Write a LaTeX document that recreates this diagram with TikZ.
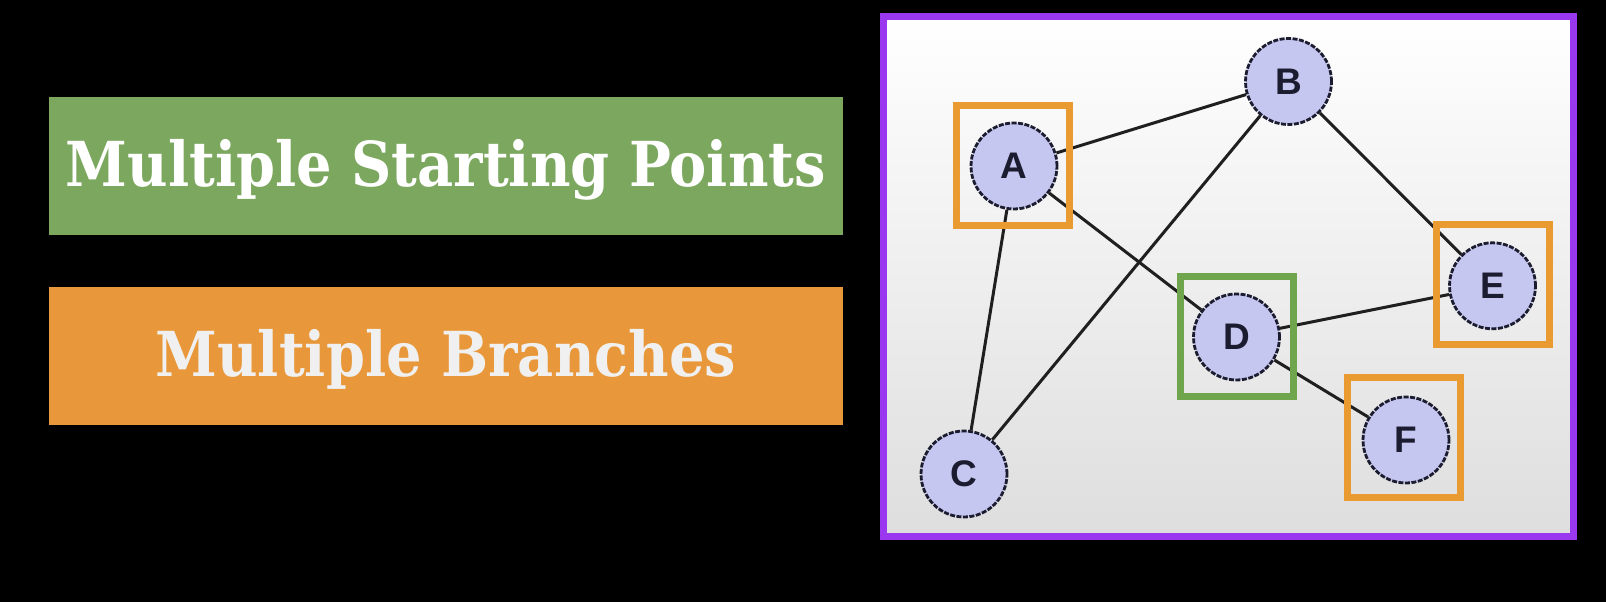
\documentclass[tikz,border=0pt]{standalone}
\usepackage{fontspec}
\setmainfont{Liberation Sans}
\newfontfamily\slab[FakeStretch=0.9]{DejaVu Serif}
\usetikzlibrary{shapes.geometric}

\definecolor{labgreen}{HTML}{7CA75F}
\definecolor{laborange}{HTML}{E8983A}
\definecolor{framepurple}{HTML}{9A38F0}
\definecolor{vertexfill}{HTML}{C6C7F0}
\definecolor{vertexink}{HTML}{1C1C30}
\definecolor{markorange}{HTML}{E99A30}
\definecolor{markgreen}{HTML}{6FA54C}

\begin{document}
\begin{tikzpicture}[x=1pt,y=-1pt,
    label box/.style={rectangle, minimum width=793.7pt, minimum height=138.3pt,
        inner sep=0pt, text height=42pt, text depth=0pt,
        font=\slab\bfseries\fontsize{62}{64}\selectfont},
    vertex/.style={circle, draw=vertexink, dash pattern=on 5pt off 1.5pt, line width=2.8pt,
        fill=vertexfill, minimum size=86pt, inner sep=0pt,
        font=\bfseries\fontsize{37}{40}\selectfont, text=vertexink},
    hilite/.style={rectangle, draw=#1, line width=7pt, minimum width=113pt,
        minimum height=120pt, inner sep=0pt},
    edge/.style={line width=3pt, black!88}]

    \fill[black] (0,0) rectangle (1606,602);
    \useasboundingbox (0,0) rectangle (1606,602);

    % the two labels
    \node[label box, fill=labgreen, text=white] (start) at (445.85,165.85) {Multiple Starting Points};
    \node[label box, fill=laborange, text=black!6] (branch) at (445.85,355.85) {Multiple Branches};

    % the graph panel
    \shade[top color=white, bottom color=black!13] (883.5,16.5) rectangle (1573.5,536.5);
    \draw[framepurple, line width=7pt] (883.5,16.5) rectangle (1573.5,536.5);

    \node[vertex] (A) at (1014,166)    {A};
    \node[vertex] (B) at (1288.5,81.5) {B};
    \node[vertex] (C) at (964,474)     {C};
    \node[vertex] (D) at (1236.5,337)  {D};
    \node[vertex] (E) at (1492.5,285.8) {E};
    \node[vertex] (F) at (1406,440)    {F};

    \foreach \u/\v in {A/B, A/C, A/D, B/C, B/E, D/E, D/F}
        \draw[edge] (\u) -- (\v);

    % picked nodes
    \node[hilite=markorange] (Abox) at (1013,165)     {};
    \node[hilite=markgreen]  (Dbox) at (1237,336.7)   {};
    \node[hilite=markorange] (Ebox) at (1493.3,284)   {};
    \node[hilite=markorange] (Fbox) at (1404,437.3)   {};
\end{tikzpicture}
\end{document}
